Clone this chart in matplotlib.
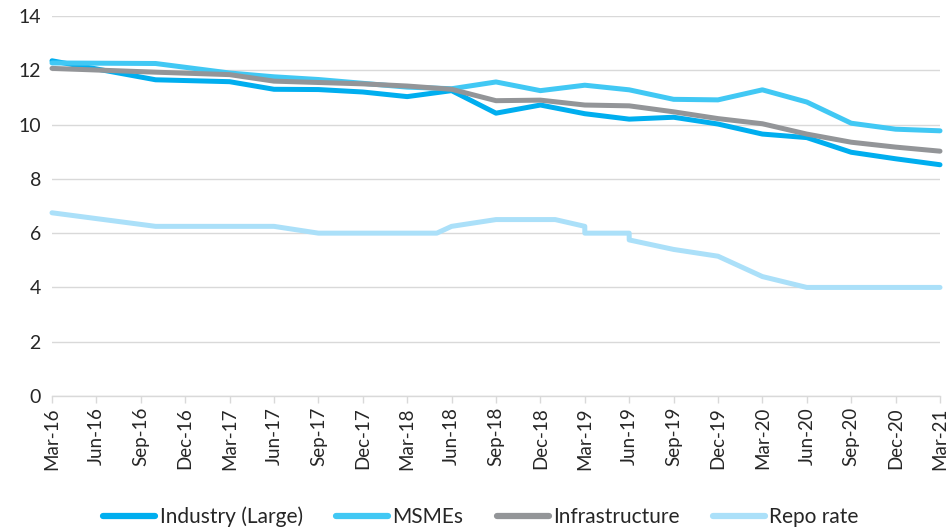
import matplotlib
matplotlib.use("Agg")
import matplotlib.pyplot as plt

plt.rcParams['font.family'] = ['Lato', 'DejaVu Sans']

# x positions are months since Mar-16
months = [0, 7, 12, 15, 18, 21, 24, 27, 30, 33, 36, 39, 42, 45, 48, 51, 54, 57, 60]
industry = [12.35, 11.65, 11.58, 11.30, 11.29, 11.20, 11.03, 11.25, 10.42, 10.72,
            10.40, 10.20, 10.27, 10.02, 9.65, 9.52, 8.98, 8.74, 8.52]
msmes = [12.27, 12.25, 11.90, 11.76, 11.66, 11.52, 11.38, 11.32, 11.57, 11.25,
         11.45, 11.28, 10.93, 10.91, 11.28, 10.83, 10.05, 9.83, 9.77]
infrastructure = [12.07, 11.93, 11.84, 11.60, 11.55, 11.50, 11.42, 11.30, 10.88, 10.90,
                  10.72, 10.69, 10.47, 10.22, 10.03, 9.65, 9.35, 9.17, 9.02]

repo_months = [0, 7, 15, 18, 26, 27, 30, 34, 36, 36, 39, 39, 42, 45, 48, 51, 60]
repo_rate = [6.75, 6.25, 6.25, 6.00, 6.00, 6.25, 6.50, 6.50, 6.25, 6.00, 6.00, 5.75,
             5.40, 5.15, 4.40, 4.00, 4.00]

tick_months = list(range(0, 61, 3))
tick_labels = ['Mar-16', 'Jun-16', 'Sep-16', 'Dec-16', 'Mar-17', 'Jun-17', 'Sep-17',
               'Dec-17', 'Mar-18', 'Jun-18', 'Sep-18', 'Dec-18', 'Mar-19', 'Jun-19',
               'Sep-19', 'Dec-19', 'Mar-20', 'Jun-20', 'Sep-20', 'Dec-20', 'Mar-21']

series_names = ['Industry (Large)', 'MSMEs', 'Infrastructure', 'Repo rate']
colors = ['#00AEEF', '#41C8F4', '#939598', '#ABE0F9']

fig = plt.figure(figsize=(9.52, 5.31), dpi=100)
ax = fig.add_axes([52/952, 1-396/531, (940-52)/952, (396-16)/531])

lw = 3.6
ax.plot(months, industry, color=colors[0], lw=lw, solid_capstyle='round',
        solid_joinstyle='round', label=series_names[0], clip_on=False)
ax.plot(months, msmes, color=colors[1], lw=lw, solid_capstyle='round',
        solid_joinstyle='round', label=series_names[1], clip_on=False)
ax.plot(months, infrastructure, color=colors[2], lw=lw, solid_capstyle='round',
        solid_joinstyle='round', label=series_names[2], clip_on=False)
ax.plot(repo_months, repo_rate, color=colors[3], lw=lw, solid_capstyle='round',
        solid_joinstyle='round', label=series_names[3], clip_on=False)

ax.set_xlim(0, 60)
ax.set_ylim(0, 14)
ax.set_yticks(range(0, 15, 2))
ax.set_xticks(tick_months)
ax.set_xticklabels(tick_labels, rotation=90)

ax.grid(axis='y', color='#D9D9D9', lw=1)
ax.set_axisbelow(True)
for s in ['top', 'right', 'left']:
    ax.spines[s].set_visible(False)
ax.spines['bottom'].set_color('#D9D9D9')
ax.spines['bottom'].set_linewidth(1)
ax.tick_params(axis='y', length=0, labelsize=14, colors='#262626', pad=8)
ax.tick_params(axis='x', length=5, width=1, color='#D9D9D9', labelsize=13.5,
               labelcolor='#262626', pad=3)

leg = fig.legend(loc='center', bbox_to_anchor=(0.505, 14/531), ncol=4,
                 frameon=False, fontsize=15, handlelength=2.5, handletextpad=0.2,
                 columnspacing=1.6)
for line in leg.get_lines():
    line.set_linewidth(4.5)
    line.set_solid_capstyle('round')
for t in leg.get_texts():
    t.set_color('#262626')

fig.savefig('out.png', dpi=100)
